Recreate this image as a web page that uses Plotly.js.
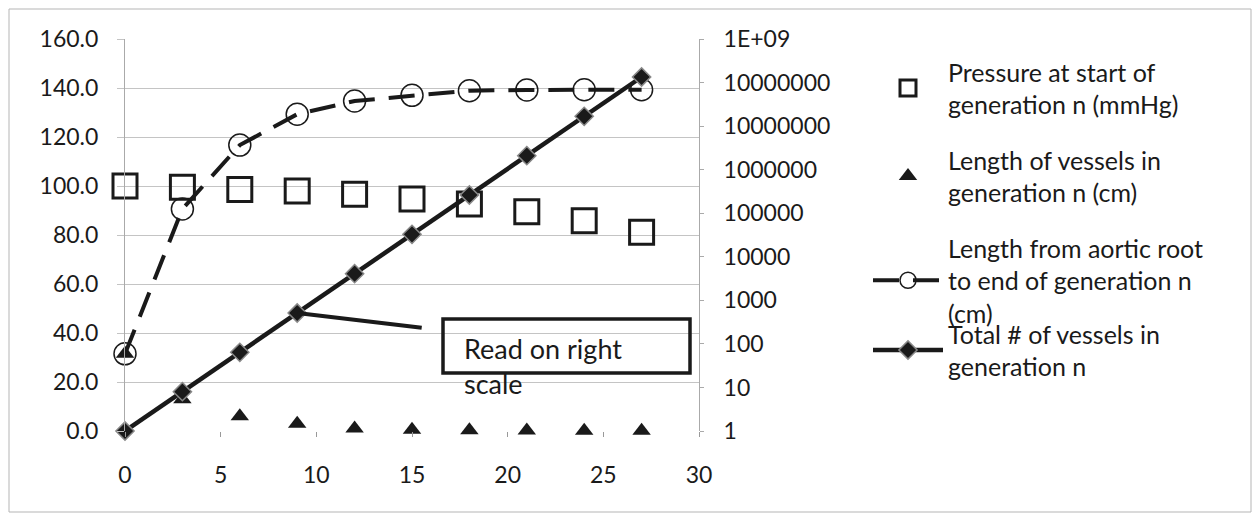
<!DOCTYPE html>
<html>
<head>
<meta charset="utf-8">
<script src="https://cdn.plot.ly/plotly-3.0.1.min.js"></script>
<style>html,body{margin:0;padding:0;background:#fff;}#chart{width:1254px;height:515px;}</style>
</head>
<body>
<div id="chart"></div>
<script>
// Generation number n
var generation = [0, 3, 6, 9, 12, 15, 18, 21, 24, 27];
// Pressure at start of generation n (mmHg)
var pressure = [100.0, 99.5, 98.6, 98.0, 96.6, 94.7, 92.7, 89.5, 85.8, 81.1];
// Length of vessels in generation n (cm)
var vesselLength = [31.5, 13.0, 6.0, 3.0, 1.0, 0.5, 0.3, 0.2, 0.1, 0.1];
// Length from aortic root to end of generation n (cm)
var aorticLength = [31.5, 90.6, 116.7, 129.3, 134.7, 137.0, 138.9, 139.2, 139.3, 139.3];
// Total # of vessels in generation n (right, log scale)
var vesselCount = [1, 8, 64, 512, 4096, 32768, 262144, 2097152, 16777216, 134217728];

var seriesNames = [
  'Pressure at start of<br>generation n (mmHg)',
  'Length of vessels in<br>generation n (cm)',
  'Length from aortic root<br>to end of generation n<br>(cm)',
  'Total # of vessels in<br>generation n'
];
var rightTickVals = [1, 10, 100, 1000, 10000, 100000, 1000000, 10000000, 100000000, 1000000000];
var rightTickText = ['1', '10', '100', '1000', '10000', '100000', '1000000', '10000000', '10000000', '1E+09'];
var noteText = 'Read on right<br>scale';

var FONT = 'Lato, "Open Sans", sans-serif';
var INK = '#1a1a1a';

var traces = [
  {
    x: generation, y: pressure, name: seriesNames[0], type: 'scatter', mode: 'markers',
    legendgroup: 'a', cliponaxis: false,
    marker: {symbol: 'square-open', size: 24, color: INK, line: {width: 3, color: INK}}
  },
  {
    x: generation, y: vesselLength, name: seriesNames[1], type: 'scatter', mode: 'markers',
    legendgroup: 'b', cliponaxis: false,
    marker: {symbol: 'triangle-up', size: 16, color: INK}
  },
  {
    x: generation, y: aorticLength, name: seriesNames[2], type: 'scatter', mode: 'lines+markers',
    legendgroup: 'c', cliponaxis: false,
    line: {color: INK, width: 4, dash: '26px,14px'},
    marker: {symbol: 'circle-open', size: 22, color: INK, line: {width: 1.5, color: INK}}
  },
  {
    x: generation, y: vesselCount, name: seriesNames[3], type: 'scatter', mode: 'lines+markers',
    yaxis: 'y2', legend: 'legend2', cliponaxis: false,
    line: {color: INK, width: 4.5},
    marker: {symbol: 'diamond', size: 14, color: INK, line: {width: 1.5, color: '#888'}}
  }
];

var PW = 574, PH = 392, ML = 125, MT = 39;
function px2x(px) { return (px - ML) / PW; }
function py2y(py) { return (MT + PH - py) / PH; }

var legendBase = {
  xanchor: 'left', yanchor: 'top',
  font: {family: FONT, size: 25, color: INK},
  itemwidth: 70, bgcolor: 'rgba(0,0,0,0)', maxheight: 1000
};

var layout = {
  width: 1254, height: 515,
  margin: {l: ML, r: 1254 - ML - PW, t: MT, b: 515 - MT - PH, pad: 0},
  paper_bgcolor: '#fff', plot_bgcolor: '#fff',
  font: {family: FONT, size: 23, color: INK},
  showlegend: true,
  legend: Object.assign({}, legendBase, {x: px2x(868), y: py2y(49), tracegroupgap: 20}),
  legend2: Object.assign({}, legendBase, {x: px2x(868), y: py2y(311)}),
  xaxis: {
    range: [0, 30], tickvals: [0, 5, 10, 15, 20, 25, 30],
    showgrid: false, zeroline: false, showline: false,
    ticks: 'outside', ticklen: 5, tickcolor: '#999', tickwidth: 1,
    ticklabelstandoff: 18,
    tickfont: {family: FONT, size: 23, color: INK}
  },
  yaxis: {
    range: [0, 160], dtick: 20, tick0: 0, tickformat: '.1f',
    showgrid: true, gridcolor: '#c4c4c4', gridwidth: 1,
    zeroline: false, showline: true, linecolor: '#aaa', linewidth: 1,
    ticks: 'outside', ticklen: 7, tickcolor: '#c4c4c4',
    ticklabelstandoff: 14,
    tickfont: {family: FONT, size: 23, color: INK}
  },
  yaxis2: {
    type: 'log', range: [0, 9], overlaying: 'y', side: 'right',
    tickvals: rightTickVals, ticktext: rightTickText,
    showgrid: false, zeroline: false, showline: true, linecolor: '#aaa', linewidth: 1,
    ticks: 'outside', ticklen: 4, tickcolor: '#aaa',
    ticklabelstandoff: 15,
    tickfont: {family: FONT, size: 23, color: INK}
  },
  shapes: [
    {type: 'rect', xref: 'paper', yref: 'paper',
     x0: px2x(9), x1: px2x(1251), y0: py2y(512), y1: py2y(9),
     line: {color: '#b5b5b5', width: 1}, layer: 'below'},
    {type: 'rect', xref: 'paper', yref: 'paper',
     x0: px2x(443), x1: px2x(690), y0: py2y(373), y1: py2y(319),
     line: {color: INK, width: 3.5}, fillcolor: 'rgba(0,0,0,0)'}
  ],
  annotations: [
    {xref: 'paper', yref: 'paper', x: px2x(462), y: py2y(366), xanchor: 'left', yanchor: 'middle',
     text: noteText, showarrow: false, align: 'left',
     font: {family: FONT, size: 27, color: INK}},
    {xref: 'x', yref: 'y2', x: generation[3], y: Math.log10(vesselCount[3]),
     text: '', showarrow: true, arrowhead: 0, arrowwidth: 4, arrowcolor: INK,
     ax: 126, ay: 15, standoff: 0, startstandoff: 0}
  ]
};

Plotly.newPlot('chart', traces, layout, {displayModeBar: false, staticPlot: true});
</script>
</body>
</html>
